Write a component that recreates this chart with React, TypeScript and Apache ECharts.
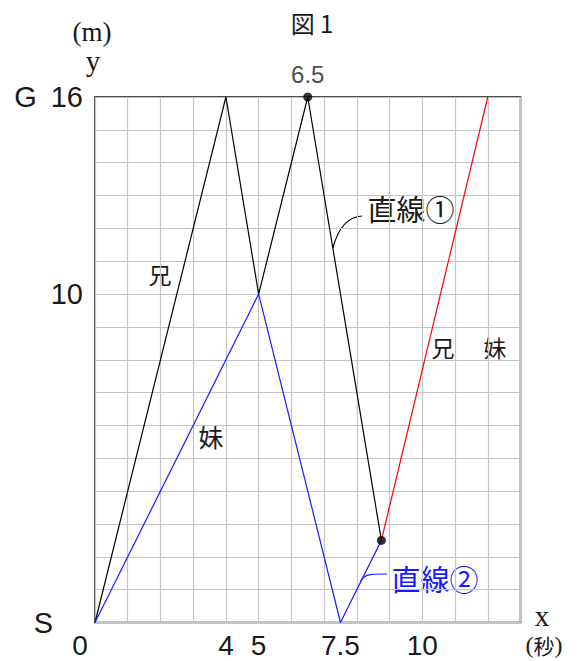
import React, { useEffect, useRef } from "react";
import * as echarts from "echarts";

// axis ranges and label positions
const xMax = 13;
const yMax = 16;
const xLabelValues = [0, 4, 5, 7.5, 10];
const yLabelValues = [0, 10, 16];

// paths (x: seconds, y: metres)
const brotherPath = [[0, 0], [4, 16], [5, 10], [6.5, 16], [8.75, 2.5]];
const sisterPath = [[0, 0], [5, 10], [7.5, 0], [8.75, 2.5]];
const togetherPath = [[8.75, 2.5], [12, 16]];
const markedPoints = [[6.5, 16], [8.75, 2.5]];
const markedLabels = ["6.5", ""];

const SANS = "'Liberation Sans', 'DejaVu Sans', sans-serif";
const SERIF = "'Liberation Serif', 'DejaVu Serif', serif";
const CJK = "'Noto Sans CJK JP', 'Noto Sans CJK SC', sans-serif";
const INK = "#1a1a1a";
const BLUE = "#1a1aff";

export default function App() {
  const ref = useRef<HTMLDivElement>(null);
  useEffect(() => {
    if (!ref.current) return;
    const chart = echarts.init(ref.current, null, { renderer: "svg" });
    const txt = (text: string, x: number, y: number, size: number, family: string, fill = INK) => ({
      type: "text",
      x,
      y,
      silent: true,
      style: { text, fontSize: size, fontFamily: family, fill, align: "center", verticalAlign: "middle" },
    });
    chart.setOption({
      animation: false,
      backgroundColor: "#fff",
      grid: {
        left: 95,
        top: 97,
        right: 62.5,
        bottom: 38.5,
        show: true,
        borderColor: "#111",
        borderWidth: 1.5,
        backgroundColor: "transparent",
      },
      xAxis: {
        type: "value",
        min: 0,
        max: xMax,
        interval: 1,
        axisLine: { show: false },
        axisTick: { show: false },
        splitLine: { show: true, lineStyle: { color: "#c4c4c4", width: 1.2 } },
        axisLabel: {
          customValues: xLabelValues,
          margin: 9,
          fontSize: 28,
          fontFamily: SANS,
          color: INK,
          formatter: (v: number) => (v === 0 ? "{z|0}" : String(v)),
          rich: { z: { fontSize: 28, fontFamily: SANS, color: INK, padding: [0, 30, 0, 0] } },
        },
      },
      yAxis: {
        type: "value",
        min: 0,
        max: yMax,
        interval: 1,
        axisLine: { show: false },
        axisTick: { show: false },
        splitLine: { show: true, lineStyle: { color: "#c4c4c4", width: 1.2 } },
        axisLabel: {
          customValues: yLabelValues,
          margin: 12,
          fontSize: 29,
          fontFamily: SANS,
          color: INK,
          formatter: (v: number) => (v === 16 ? "{g|G}{n|16}" : v === 0 ? "{s|S}" : String(v)),
          rich: {
            g: { fontSize: 29, fontFamily: SANS, color: INK, padding: [0, 14, 0, 0] },
            n: { fontSize: 29, fontFamily: SANS, color: INK },
            s: { fontSize: 29, fontFamily: SANS, color: INK, padding: [0, 30, 0, 0] },
          },
        },
      },
      series: [
        {
          name: "兄",
          type: "line",
          data: brotherPath,
          symbol: "none",
          lineStyle: { color: "#000", width: 1.2 },
          z: 3,
        },
        {
          name: "妹",
          type: "line",
          data: sisterPath,
          symbol: "none",
          lineStyle: { color: BLUE, width: 1.2 },
          z: 3,
        },
        {
          name: "兄妹",
          type: "line",
          data: togetherPath,
          symbol: "none",
          lineStyle: { color: "#ff0000", width: 1.2 },
          z: 3,
        },
        {
          type: "scatter",
          data: markedPoints.map((p, i) => ({ value: p, label: { formatter: markedLabels[i] } })),
          symbol: "circle",
          symbolSize: 9,
          itemStyle: { color: "#000" },
          label: {
            show: true,
            position: "top",
            distance: 6,
            fontSize: 24,
            fontFamily: SANS,
            color: INK,
          },
          z: 5,
        },
      ],
      graphic: [
        txt("図 1", 312, 22, 24, CJK),
        txt("(m)", 92, 32, 27, SERIF),
        txt("y", 93, 61, 29, SERIF),
        {
          type: "text",
          x: 542,
          y: 616,
          silent: true,
          style: {
            text: "x",
            fontSize: 29,
            lineHeight: 22,
            fontFamily: SERIF,
            fill: INK,
            align: "center",
            verticalAlign: "middle",
          },
        },
        {
          type: "text",
          x: 544,
          y: 645,
          silent: true,
          style: {
            text: "{p|(}{c|秒}{p|)}",
            align: "center",
            verticalAlign: "middle",
            rich: {
              p: { fontSize: 24, fontFamily: SERIF, fill: INK, lineHeight: 24 },
              c: { fontSize: 21, fontFamily: CJK, fill: INK, lineHeight: 24 },
            },
          },
        },
        txt("兄", 160, 274, 23, CJK),
        txt("妹", 211, 436, 25, CJK),
        txt("兄", 443, 347, 23, CJK),
        txt("妹", 495, 347, 23, CJK),
        txt("直線①", 411, 208, 29, CJK),
        txt("直線②", 435, 578, 29, CJK, BLUE),
        {
          type: "bezierCurve",
          silent: true,
          shape: { x1: 333, y1: 248, cpx1: 338, cpy1: 228, cpx2: 348, cpy2: 217, x2: 362, y2: 216 },
          style: { stroke: "#000", fill: "none", lineWidth: 1.2 },
        },
        {
          type: "bezierCurve",
          silent: true,
          shape: { x1: 360.5, y1: 581, cpx1: 365, cpy1: 574, cpx2: 370, cpy2: 574, x2: 387, y2: 574 },
          style: { stroke: BLUE, fill: "none", lineWidth: 1.2 },
        },
      ],
    });
    return () => chart.dispose();
  }, []);
  return (
    <div
      ref={ref}
      style={{ position: "fixed", left: 0, top: 0, width: 583, height: 661, background: "#fff" }}
    />
  );
}
